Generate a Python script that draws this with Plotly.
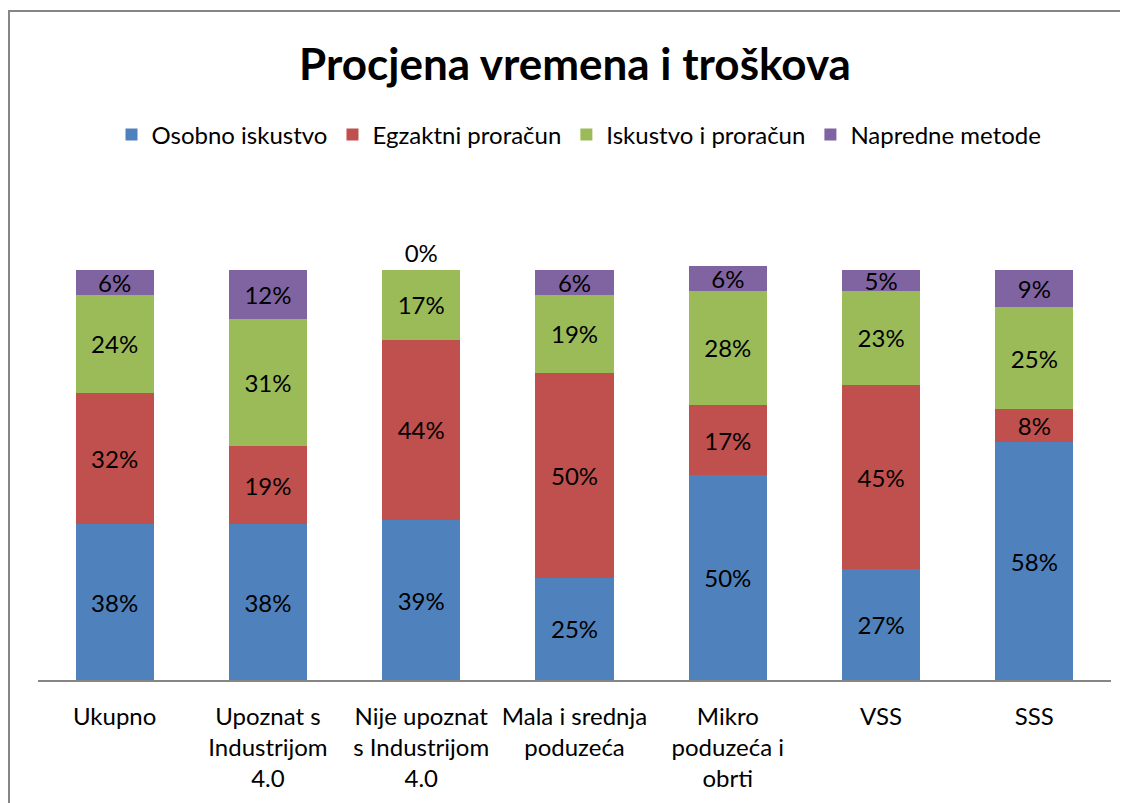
import plotly.graph_objects as go

categories = ["Ukupno", "Upoznat s<br>Industrijom<br>4.0", "Nije upoznat<br>s Industrijom<br>4.0",
              "Mala i srednja<br>poduzeća", "Mikro<br>poduzeća i<br>obrti", "VSS", "SSS"]
osobno = [38, 38, 39, 25, 50, 27, 58]
egzaktni = [32, 19, 44, 50, 17, 45, 8]
iskustvo_proracun = [24, 31, 17, 19, 28, 23, 25]
napredne = [6, 12, 0, 6, 6, 5, 9]

series = [
    ("Osobno iskustvo", osobno, "#4F81BD"),
    ("Egzaktni proračun", egzaktni, "#C0504D"),
    ("Iskustvo i proračun", iskustvo_proracun, "#9BBB59"),
    ("Napredne metode", napredne, "#8064A2"),
]

FONT = "Lato, Calibri, Carlito, sans-serif"
FS = 24
fig = go.Figure()
for name, vals, color in series:
    pos = ["outside" if v == 0 else "inside" for v in vals]
    fig.add_trace(go.Bar(
        name=name, x=categories, y=vals, marker=dict(color=color, line=dict(width=0)),
        text=[f"{v}%" for v in vals], textposition=pos, insidetextanchor="middle",
        textangle=0, constraintext="none",
        textfont=dict(family=FONT, size=FS, color="#000000"),
        outsidetextfont=dict(family=FONT, size=FS, color="#000000"),
        insidetextfont=dict(family=FONT, size=FS, color="#000000"),
        cliponaxis=False,
    ))

# page body has an 8px margin; figure coordinates = reference - 8
OFF = 8
W, H = 1128, 803
plot_left, plot_right = 38 - OFF, 1111 - OFF
plot_top, plot_bottom = 250 - OFF, 680 - OFF
L, R, T, B = plot_left, W - plot_right, plot_top, H - plot_bottom
ph = plot_bottom - plot_top
pw = plot_right - plot_left

fig.update_layout(
    barmode="stack", bargap=0.49,
    width=W, height=H,
    margin=dict(l=L, r=R, t=T, b=B),
    paper_bgcolor="white", plot_bgcolor="white",
    font=dict(family=FONT, size=FS, color="#000000"),
    title=dict(text="<b>Procjena vremena i troškova</b>", x=(575 - OFF) / W, xanchor="center",
               y=1 - (65 - OFF) / H, yanchor="middle",
               font=dict(family=FONT, size=44, color="#000000")),
    legend=dict(orientation="h", x=(579 - OFF - L) / pw, xanchor="center",
                y=(plot_bottom - (135 - OFF)) / ph, yanchor="middle",
                font=dict(family=FONT, size=FS, color="#000000"),
                traceorder="normal", itemwidth=30, bgcolor="rgba(0,0,0,0)"),
    xaxis=dict(showline=True, linecolor="#868686", linewidth=1.5, ticks="",
               ticklabelstandoff=14,
               tickfont=dict(family=FONT, size=FS, color="#000000"), showgrid=False),
    yaxis=dict(range=[0, ph / 4.1], visible=False, showgrid=False),
)

fig.add_shape(type="rect", xref="paper", yref="paper",
              x0=(1 - L) / pw, x1=(W + 20 - L) / pw,
              y0=(plot_bottom - H - 20) / ph, y1=(plot_bottom - 3) / ph,
              line=dict(color="#868686", width=2), fillcolor="rgba(0,0,0,0)", layer="below")

fig.write_html("out.html")
